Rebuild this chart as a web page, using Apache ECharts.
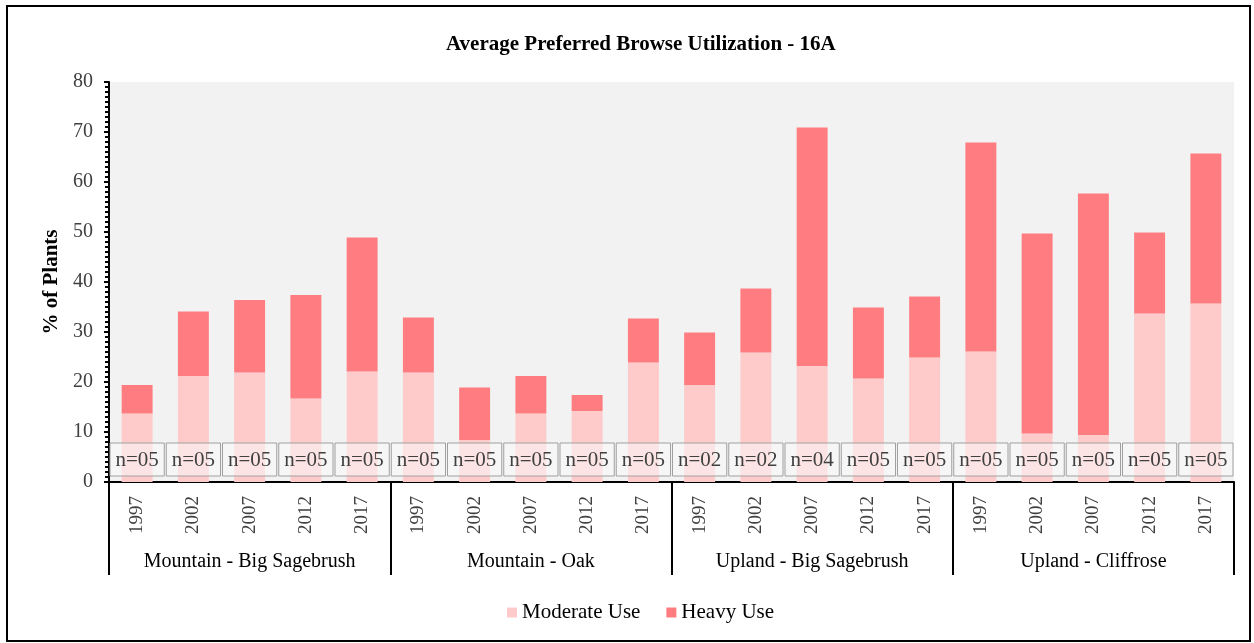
<!DOCTYPE html>
<html>
<head>
<meta charset="utf-8">
<title>Average Preferred Browse Utilization - 16A</title>
<script src="https://cdn.jsdelivr.net/npm/echarts@6/dist/echarts.min.js"></script>
<style>
  html, body { margin: 0; padding: 0; background: #fff; }
  #chart { width: 1254px; height: 643px; }
</style>
</head>
<body>
<div id="chart"></div>
<script>
// Site groups and sampling years
const groups = ['Mountain - Big Sagebrush', 'Mountain - Oak', 'Upland - Big Sagebrush', 'Upland - Cliffrose'];
const years = [
  '1997', '2002', '2007', '2012', '2017',
  '1997', '2002', '2007', '2012', '2017',
  '1997', '2002', '2007', '2012', '2017',
  '1997', '2002', '2007', '2012', '2017'
];

// % of plants in each use class
const moderateUse = [
  13.7, 21.2, 21.9, 16.7, 22.1,
  21.9, 8.4, 13.7, 14.2, 23.9,
  19.4, 25.9, 23.2, 20.7, 24.9,
  26.1, 9.7, 9.4, 33.7, 35.7
];
const heavyUse = [
  5.7, 12.9, 14.5, 20.7, 26.8,
  11.0, 10.5, 7.5, 3.2, 8.8,
  10.5, 12.8, 47.7, 14.2, 12.2,
  41.8, 40.0, 48.3, 16.2, 30.0
];

// Number of sampled sites per bar
const sampleSizes = [
  'n=05', 'n=05', 'n=05', 'n=05', 'n=05',
  'n=05', 'n=05', 'n=05', 'n=05', 'n=05',
  'n=02', 'n=02', 'n=04', 'n=05', 'n=05',
  'n=05', 'n=05', 'n=05', 'n=05', 'n=05'
];

const SERIF = '"Liberation Serif", "Times New Roman", serif';
const BOX_TOP = 7.8;     // sample-size strip, in % units
const BOX_BOTTOM = 1.2;

const chart = echarts.init(document.getElementById('chart'));

chart.setOption({
  animation: false,
  backgroundColor: '#fff',
  title: {
    text: 'Average Preferred Browse Utilization - 16A',
    left: 441,
    top: 29,
    textStyle: { fontFamily: SERIF, fontSize: 21, fontWeight: 'bold', color: '#000' }
  },
  legend: {
    data: ['Moderate Use', 'Heavy Use'],
    left: 502,
    top: 597,
    icon: 'rect',
    itemWidth: 10,
    itemHeight: 10,
    itemGap: 26,
    textStyle: { fontFamily: SERIF, fontSize: 21, color: '#000' }
  },
  grid: {
    left: 109, right: 20, top: 82, bottom: 161,
    show: true, backgroundColor: '#F2F2F2', borderWidth: 0
  },
  xAxis: [
    {
      type: 'category',
      data: years,
      position: 'bottom',
      axisLine: { show: true, lineStyle: { color: '#000', width: 2 } },
      axisTick: { show: false },
      axisLabel: {
        interval: 0, rotate: 90, margin: 14,
        fontFamily: SERIF, fontSize: 19, color: '#404040'
      },
      splitLine: { show: false }
    },
    {
      type: 'category',
      data: groups,
      position: 'bottom',
      axisLine: { show: false },
      axisTick: { show: true, length: 93, lineStyle: { color: '#000', width: 2 } },
      axisLabel: {
        interval: 0, margin: 70,
        fontFamily: SERIF, fontSize: 20, color: '#000'
      },
      splitLine: { show: false }
    }
  ],
  yAxis: {
    type: 'value',
    min: 0, max: 80, interval: 10,
    name: '% of Plants',
    nameLocation: 'middle',
    nameGap: 39,
    nameTextStyle: { fontFamily: SERIF, fontSize: 21, fontWeight: 'bold', color: '#000' },
    axisLine: { show: true, lineStyle: { color: '#000', width: 2 } },
    axisTick: { show: true, length: 5, lineStyle: { color: '#000', width: 2 } },
    minorTick: { show: true, splitNumber: 10, length: 4, lineStyle: { color: '#000', width: 2 } },
    axisLabel: { margin: 16, fontFamily: SERIF, fontSize: 20, color: '#404040' },
    splitLine: { show: false }
  },
  series: [
    {
      name: 'Moderate Use',
      type: 'bar',
      stack: 'use',
      barWidth: '55%',
      data: moderateUse,
      itemStyle: { color: '#FFCACA' }
    },
    {
      name: 'Heavy Use',
      type: 'bar',
      stack: 'use',
      barWidth: '55%',
      data: heavyUse,
      itemStyle: { color: '#FF7C80' }
    },
    {
      // Sample size boxes across the bottom of the plot
      name: 'Sample size',
      type: 'custom',
      z: 5,
      data: sampleSizes.map((n, i) => [i, n]),
      encode: { x: 0 },
      renderItem: function (params, api) {
        const idx = api.value(0);
        const top = api.coord([idx, BOX_TOP]);
        const bottom = api.coord([idx, BOX_BOTTOM]);
        const w = api.size([1, 0])[0];
        const x0 = top[0] - w / 2 + 1;
        const width = w - 2;
        return {
          type: 'group',
          children: [
            {
              type: 'rect',
              shape: { x: x0, y: top[1], width: width, height: bottom[1] - top[1] },
              style: { fill: 'rgba(250,250,250,0.55)', stroke: '#A0A0A0', lineWidth: 1 }
            },
            {
              type: 'text',
              style: {
                x: top[0], y: (top[1] + bottom[1]) / 2 + 1,
                text: sampleSizes[idx],
                align: 'center', verticalAlign: 'middle',
                font: '21px ' + SERIF,
                fill: '#404040'
              }
            }
          ]
        };
      }
    }
  ],
  graphic: [
    {
      type: 'rect',
      silent: true,
      shape: { x: 7, y: 6, width: 1243, height: 635 },
      style: { fill: 'none', stroke: '#000', lineWidth: 2 }
    }
  ]
});
</script>
</body>
</html>
